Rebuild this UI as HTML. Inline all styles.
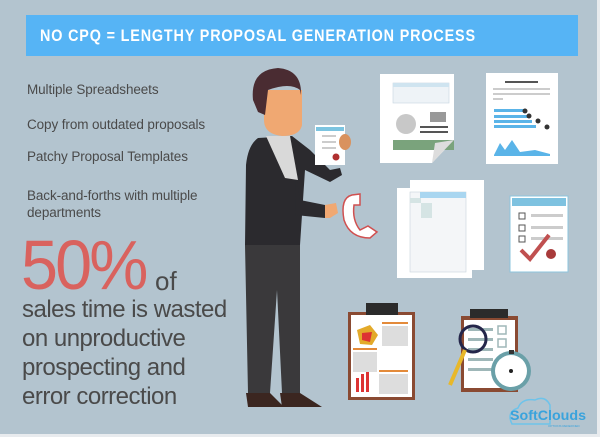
<!DOCTYPE html>
<html><head><meta charset="utf-8"><style>
body{margin:0;width:600px;height:437px;overflow:hidden;background:#b3c4cf;font-family:"Liberation Sans",sans-serif;position:relative}
.a{position:absolute}
.t{position:absolute;left:27px;color:#4a4a4a;font-size:13.5px;white-space:nowrap;letter-spacing:-0.1px}
.b{position:absolute;left:22px;color:#4a4a4a;font-size:24px;white-space:nowrap;letter-spacing:-0.5px}
</style></head><body>
<div class="a" style="left:26px;top:15px;width:552px;height:41px;background:#56b4f5;"></div>
<div class="a" style="left:40px;top:15px;width:442px;height:41px;color:#fff;font-weight:bold;font-size:17px;letter-spacing:1px;line-height:41px;white-space:nowrap;transform-origin:0 0;transform:scaleX(0.845)">NO CPQ = LENGTHY PROPOSAL GENERATION PROCESS</div>
<div class="t" style="top:82px">Multiple Spreadsheets</div>
<div class="t" style="top:117px">Copy from outdated proposals</div>
<div class="t" style="top:149px">Patchy Proposal Templates</div>
<div class="t" style="top:188px">Back-and-forths with multiple</div>
<div class="t" style="top:205px">departments</div>
<div class="a" style="left:21px;top:230px;color:#d9625e;font-size:70px;letter-spacing:-3px;line-height:70px;transform-origin:0 0;transform:scaleX(0.95)">50%</div>
<div class="a" style="left:155px;top:266px;color:#4a4a4a;font-size:26px">of</div>
<div class="b" style="top:296px">sales time is wasted</div>
<div class="b" style="top:325px">on unproductive</div>
<div class="b" style="top:354px">prospecting and</div>
<div class="b" style="top:383px">error correction</div>
<svg class="a" style="left:0;top:0" width="600" height="437">
<!-- man -->
<path d="M258 138 L292 136 L310 150 L330 170 L340 168 L342 175 L330 182 L305 170 L300 245 L245 245 L246 165 Q248 145 258 138Z" fill="#2b2a2e"/>
<path d="M296 175 L300 200 L325 205 L325 218 L295 215 Z" fill="#2b2a2e"/>
<path d="M266 136 L290 136 L298 180 L285 178Z" fill="#d9d9d9"/>
<path d="M245 245 L300 245 L300 393 L282 393 L277 290 L270 393 L248 393 Z" fill="#3a393b"/>
<path d="M246 393 L270 393 L284 407 L248 407Z" fill="#3b2620"/>
<path d="M280 393 L300 393 L322 407 L282 407Z" fill="#3b2620"/>
<path d="M264 90 L302 90 L302 125 Q300 136 282 136 Q264 134 264 120Z" fill="#f0a872"/>
<path d="M253 100 Q250 70 278 68 Q302 70 301 95 L300 90 Q290 82 268 90 L265 115 L258 112 Z" fill="#4a2c32"/>
<path d="M325 205 L336 203 L338 213 L330 218 L325 218Z" fill="#f0a872"/>
<rect x="315" y="125" width="30" height="40" fill="#fff"/>
<rect x="316" y="127" width="28" height="4" fill="#7cc4e0"/>
<rect x="322" y="135" width="14" height="2" fill="#ccc"/><rect x="322" y="141" width="14" height="2" fill="#ccc"/><rect x="322" y="147" width="14" height="2" fill="#ccc"/>
<ellipse cx="345" cy="142" rx="6" ry="8" fill="#d9925e"/>
<circle cx="336" cy="157" r="3.5" fill="#b03030"/>
<path d="M352 195 Q340 198 344 220 Q350 238 370 238 L377 232 L368 226 L360 230 Q352 220 354 205 L360 205 L360 194Z" fill="#fff" stroke="#d05050" stroke-width="1.5"/>
<!-- doc1 -->
<path d="M380 74 L454 74 L454 140 L432 163 L380 163Z" fill="#fff"/>
<rect x="393" y="83" width="56" height="20" fill="#eef3f7" stroke="#c5d5e0" stroke-width="0.6"/>
<rect x="393" y="83" width="56" height="4" fill="#cfe4f0"/>
<circle cx="406" cy="124" r="10" fill="#c8c8c8"/>
<rect x="430" y="112" width="16" height="10" fill="#999"/>
<rect x="420" y="126" width="28" height="2" fill="#555"/><rect x="420" y="131" width="28" height="2" fill="#555"/>
<rect x="393" y="140" width="61" height="10" fill="#7aa37c"/>
<path d="M432 163 L454 140 L435 143Z" fill="#ddd"/>
<!-- doc2 -->
<rect x="486" y="73" width="72" height="91" fill="#fff"/>
<rect x="505" y="81" width="33" height="2" fill="#555"/>
<rect x="493" y="88" width="57" height="2" fill="#ccc"/><rect x="493" y="93" width="57" height="2" fill="#ccc"/><rect x="493" y="98" width="10" height="2" fill="#ccc"/>
<rect x="494" y="109" width="31" height="3" fill="#5ab4e8"/><rect x="494" y="115" width="34" height="3" fill="#5ab4e8"/><rect x="494" y="120" width="38" height="3" fill="#5ab4e8"/><rect x="494" y="125" width="42" height="3" fill="#5ab4e8"/>
<circle cx="525" cy="111" r="2.5" fill="#333"/><circle cx="529" cy="116" r="2.5" fill="#333"/><circle cx="538" cy="121" r="2.5" fill="#333"/><circle cx="547" cy="127" r="2.5" fill="#333"/>
<path d="M494 155 L500 143 L505 150 L512 140 L520 152 L535 150 L550 154 L550 156 L494 156Z" fill="#5ab4e8"/>
<!-- spreadsheets -->
<rect x="410" y="180" width="74" height="90" fill="#fff"/>
<rect x="397" y="188" width="75" height="90" fill="#fff"/>
<rect x="410" y="192" width="56" height="80" fill="#f4f6f8" stroke="#c8d3dc" stroke-width="0.6"/>
<rect x="420" y="192" width="46" height="6" fill="#a9d6f0"/>
<rect x="410" y="198" width="11" height="5" fill="#d5e4e4"/><rect x="421" y="203" width="11" height="15" fill="#d5e4e4"/>
<!-- cert -->
<rect x="510" y="196" width="58" height="76" fill="#fff" stroke="#8cc4dd"/>
<rect x="512" y="198" width="54" height="8" fill="#7ec2e0"/>
<rect x="531" y="214" width="32" height="3" fill="#ccc"/><rect x="531" y="226" width="32" height="3" fill="#ccc"/><rect x="531" y="237" width="32" height="3" fill="#ccc"/>
<rect x="519" y="213" width="6" height="6" fill="none" stroke="#555"/><rect x="519" y="225" width="6" height="6" fill="none" stroke="#555"/><rect x="519" y="236" width="6" height="6" fill="none" stroke="#555"/>
<path d="M521 250 L530 259 L549 235" fill="none" stroke="#c05050" stroke-width="4"/>
<circle cx="551" cy="254" r="5" fill="#a83a3a"/>
<!-- clipboard1 -->
<rect x="348" y="312" width="67" height="88" fill="#8a4a32"/>
<rect x="351" y="315" width="61" height="82" fill="#fff"/>
<rect x="366" y="303" width="32" height="12" fill="#2b2b2b"/>
<path d="M357 330 L370 325 L378 335 L372 345 L360 344Z" fill="#e3aa2a"/>
<path d="M362 333 L372 332 L370 342 L362 340Z" fill="#d33"/>
<rect x="382" y="322" width="26" height="2" fill="#e38a3a"/><rect x="382" y="326" width="26" height="20" fill="#ddd"/>
<rect x="353" y="348" width="24" height="2" fill="#e38a3a"/><rect x="353" y="352" width="24" height="20" fill="#ddd"/>
<rect x="356" y="378" width="3" height="14" fill="#d33"/><rect x="361" y="374" width="3" height="18" fill="#d33"/><rect x="366" y="372" width="3" height="20" fill="#d33"/>
<rect x="379" y="370" width="29" height="2" fill="#e38a3a"/><rect x="379" y="374" width="29" height="20" fill="#ddd"/>
<!-- clipboard2 -->
<rect x="461" y="316" width="57" height="76" fill="#8a4a32"/>
<rect x="464" y="320" width="51" height="68" fill="#fff"/>
<rect x="470" y="309" width="38" height="9" fill="#2b2b2b"/>
<rect x="468" y="328" width="25" height="3" fill="#9fb7b8"/><rect x="468" y="338" width="25" height="3" fill="#9fb7b8"/><rect x="468" y="348" width="25" height="3" fill="#9fb7b8"/><rect x="468" y="358" width="25" height="3" fill="#9fb7b8"/><rect x="468" y="368" width="25" height="3" fill="#9fb7b8"/>
<rect x="498" y="326" width="8" height="8" fill="none" stroke="#9fb7b8" stroke-width="1.5"/><rect x="498" y="339" width="8" height="8" fill="none" stroke="#9fb7b8" stroke-width="1.5"/>
<circle cx="473" cy="339" r="13" fill="none" stroke="#24264a" stroke-width="3"/>
<line x1="465" y1="350" x2="450" y2="385" stroke="#e8b82a" stroke-width="4"/>
<circle cx="511" cy="371" r="20" fill="#6aa0a8"/>
<circle cx="511" cy="371" r="16" fill="#fff"/>
<rect x="509" y="350" width="5" height="4" fill="#333"/>
<circle cx="511" cy="371" r="2" fill="#222"/>
<!-- logo -->
<path d="M512 424 Q506 412 518 408 Q522 398 535 400 Q545 395 550 405 L550 424Z" fill="none" stroke="#6ec3ea" stroke-width="1.5"/>
<text x="510" y="420" font-family="Liberation Sans,sans-serif" font-size="14" font-weight="bold" fill="#3aa3dc" textLength="76" lengthAdjust="spacingAndGlyphs">SoftClouds</text>
<text x="548" y="427" font-family="Liberation Sans,sans-serif" font-size="3" fill="#3aa3dc">OPTIONS REDEFINED</text>
<rect x="597" y="0" width="3" height="437" fill="#e8ebee"/>
<rect x="0" y="434" width="600" height="3" fill="#e8ebee"/>
</svg>
</body></html>
